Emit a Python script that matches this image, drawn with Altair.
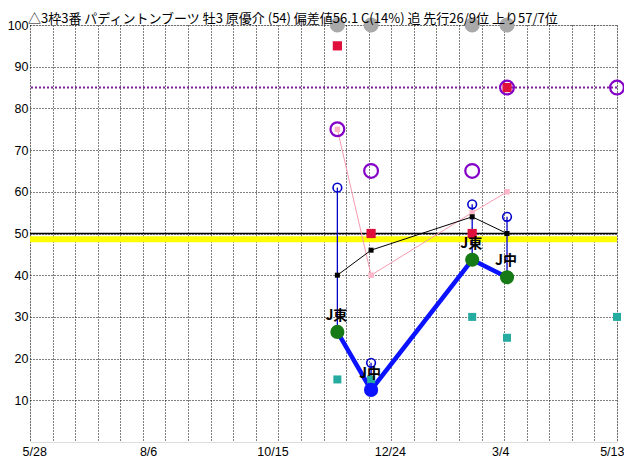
import json
import altair as alt
import pandas as pd

# ---------------- data ----------------
title_text = "△3枠3番 パディントンブーツ 牡3 原優介 (54) 偏差値56.1 C(14%) 追 先行26/9位 上り57/7位"

tick_labels = ["5/28", "8/6", "10/15", "12/24", "3/4", "5/13"]
tick_pos = [0, 72.8, 145.6, 218.4, 291.2, 364]
grid_pos = [14 * i for i in range(27)]
y_ticks = [10, 20, 30, 40, 50, 60, 70, 80, 90, 100]

race_day = [190.6, 211.5, 274.2, 295.8]
end_day = [364]

gray_top = [100, 100, 100, 100]
red_sq = [95, 50, 50, 85]
purple_ring = [75, 65, 65, 85]
purple_end = [85]
pink_sq = [75, 40, 55, 60]
black_sq = [40, 46, 54, 50]
blue_ring = [61, 19, 57, 54]
main_val = [26.4, 12.5, 43.7, 39.5]
main_color = ["#167a16", "#0a12ff", "#167a16", "#167a16"]
main_label = ["J東", "J中", "J東", "J中"]
teal_sq = [15, 15, 30, 25]
teal_end = [30]

yellow_line = [48.6]
black_line = [50]
purple_line = [85]

# ---------------- tables ----------------
races = pd.DataFrame({
    "day": race_day, "gray": gray_top, "red": red_sq, "purple": purple_ring,
    "pink": pink_sq, "black": black_sq, "ring": blue_ring, "main": main_val,
    "mcolor": main_color, "label": main_label, "teal": teal_sq,
})
ends = pd.DataFrame({"day": end_day, "purple": purple_end, "teal": teal_end})

JP = "Noto Sans CJK JP"
LAB = "Liberation Sans"

label_expr = (
    f"indexof({json.dumps(tick_pos)}, datum.value) >= 0 ? "
    f"{json.dumps(tick_labels, ensure_ascii=False)}[indexof({json.dumps(tick_pos)}, datum.value)] : ''"
)

x_axis = alt.Axis(
    values=sorted(set(grid_pos + tick_pos)),
    labelExpr=label_expr,
    title=None, ticks=False, domain=False,
    grid=True, gridColor="black", gridDash=[1, 2], gridWidth=1,
    gridOpacity={"condition": {"test": "datum.value % 14 == 0", "value": 1}, "value": 0},
    labelAlign={"condition": {"test": "datum.value >= 364", "value": "right"}, "value": "left"},
    labelOffset={"condition": {"test": "datum.value >= 364", "value": 7}, "value": -8},
    labelFlush=False, labelOverlap=False,
    labelFont=LAB, labelFontSize=12.5, labelColor="black", labelPadding=3,
)
y_axis = alt.Axis(
    values=y_ticks, title=None, ticks=False, domain=False,
    grid=True, gridColor="black", gridDash=[1, 2], gridWidth=1,
    labelFont=LAB, labelFontSize=12.5, labelColor="black", labelPadding=2,
    labelOverlap=False,
)
xs = alt.Scale(domain=[0, 364], nice=False, zero=False)
ys = alt.Scale(domain=[0, 100], nice=False, zero=True)


def X(f="day"):
    return alt.X(f"{f}:Q", scale=xs, axis=x_axis)


def Y(f):
    return alt.Y(f"{f}:Q", scale=ys, axis=y_axis)


base = alt.Chart(races)

band = alt.Chart(pd.DataFrame({"v": yellow_line})).mark_rule(
    color="#ffff00", strokeWidth=6).encode(y=Y("v"))
line50 = alt.Chart(pd.DataFrame({"v": black_line})).mark_rule(
    color="black", strokeWidth=1.5).encode(y=Y("v"))
line85 = alt.Chart(pd.DataFrame({"v": purple_line})).mark_rule(
    color="#7a1f9a", strokeWidth=2, strokeDash=[2, 2]).encode(y=Y("v"))

pink_line = base.mark_line(color="#f59ab0", strokeWidth=1).encode(x=X(), y=Y("pink"))
black_ln = base.mark_line(color="black", strokeWidth=1).encode(x=X(), y=Y("black"))
verticals = base.mark_rule(color="#0000cc", strokeWidth=1.3).encode(
    x=X(), y=Y("ring"), y2="main:Q")
main_line = base.mark_line(color="#0a12ff", strokeWidth=4.5).encode(x=X(), y=Y("main"))

pink_pts = base.mark_square(size=30, color="#ffb6c8", opacity=1).encode(x=X(), y=Y("pink"))
black_pts = base.mark_square(size=25, color="black", opacity=1).encode(x=X(), y=Y("black"))
red_pts = base.mark_square(size=85, color="#e0103c", opacity=1).encode(x=X(), y=Y("red"))
teal_pts = base.mark_square(size=64, color="#26aba0", opacity=1).encode(x=X(), y=Y("teal"))
teal_end_pts = alt.Chart(ends).mark_square(size=64, color="#26aba0", opacity=1).encode(
    x=X(), y=Y("teal"))

purple_pts = base.mark_point(shape="circle", filled=False, size=190, strokeWidth=2.2,
                             color="#8400c8", opacity=1).encode(x=X(), y=Y("purple"))
purple_end_pts = alt.Chart(ends).mark_point(shape="circle", filled=False, size=190,
                                            strokeWidth=2.2, color="#8400c8",
                                            opacity=1).encode(x=X(), y=Y("purple"))
ring_pts = base.mark_point(shape="circle", filled=False, size=75, strokeWidth=1.6,
                           color="#0000cc", opacity=1).encode(x=X(), y=Y("ring"))
main_pts = base.mark_circle(size=200, opacity=1).encode(
    x=X(), y=Y("main"), color=alt.Color("mcolor:N", scale=None))
gray_pts = base.mark_circle(size=230, color="#a9a9a9", opacity=1).encode(x=X(), y=Y("gray"))
labels = base.mark_text(font=JP, fontSize=14, fontWeight="bold", color="black",
                        baseline="alphabetic", align="center", dy=-12, dx=-1).encode(
    x=X(), y=Y("main"), text="label:N")

chart = alt.layer(
    band, line50, line85, pink_line, black_ln, verticals, main_line,
    pink_pts, black_pts, red_pts, teal_pts, teal_end_pts,
    purple_pts, purple_end_pts, ring_pts, main_pts, gray_pts, labels,
).properties(
    width=587, height=417,
    padding={"left": 22, "top": 17, "right": 7, "bottom": 18},
    autosize=alt.AutoSizeParams(type="none"),
    title=alt.TitleParams(
        text=title_text, anchor="start", frame="group", offset=0, dy=8.6, dx=-2,
        fontSize=13, font=JP, fontWeight="normal", color="black",
    ),
).configure_view(
    stroke="black", strokeWidth=2.5,
).configure(background="white")

chart.save("out.html", embed_options={"renderer": "svg", "actions": False})
